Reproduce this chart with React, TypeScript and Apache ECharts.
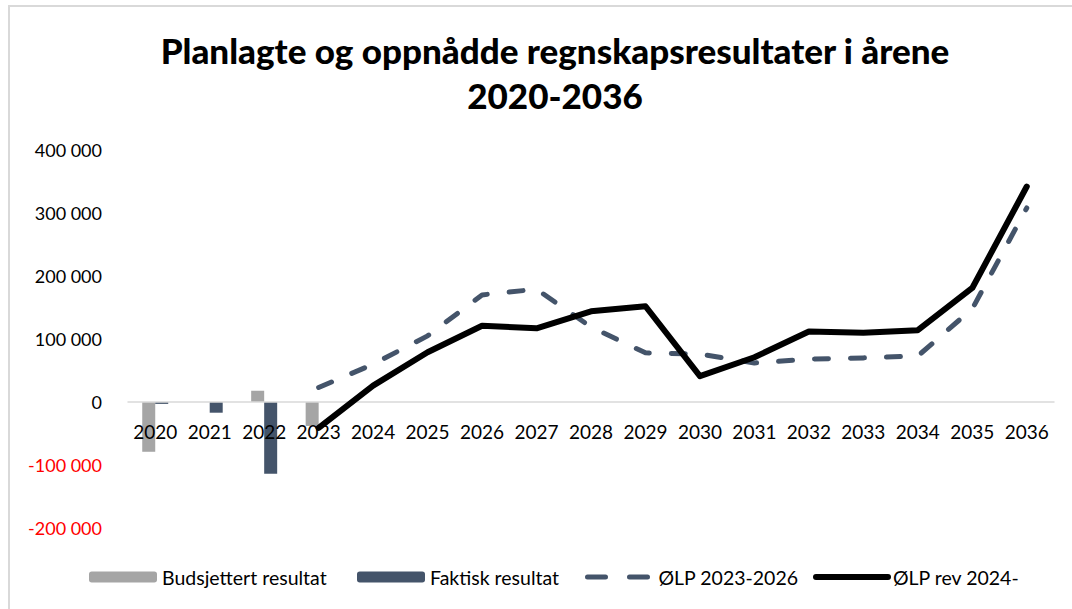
import React, { useEffect, useRef } from "react";
import * as echarts from "echarts";

const years = ["2020","2021","2022","2023","2024","2025","2026","2027","2028","2029","2030","2031","2032","2033","2034","2035","2036"];
const budsjettert = [-79000, null, 18000, -38000, null, null, null, null, null, null, null, null, null, null, null, null, null];
const faktisk = [-3000, -17000, -114000, null, null, null, null, null, null, null, null, null, null, null, null, null, null];
const olp2023 = [null, null, null, 23000, 60000, 105000, 170000, 179000, 119000, 78000, 76000, 62000, 68000, 70000, 73000, 148000, 308000];
const olpRev = [null, null, null, -41000, 26000, 79000, 121000, 117000, 144000, 152000, 41000, 71000, 112000, 110000, 114000, 181000, 342000];
const seriesNames = ["Budsjettert resultat", "Faktisk resultat", "ØLP 2023-2026", "ØLP rev 2024-"];
const titleText = "Planlagte og oppnådde regnskapsresultater i årene\n2020-2036";

const FONT = "Lato";

function fmt(v: number): string {
  const n = Number(v);
  const s = Math.abs(n).toString().replace(/\B(?=(\d{3})+(?!\d))/g, " ");
  return (n < 0 ? "-" : "") + s;
}

export default function App() {
  const ref = useRef<HTMLDivElement>(null);
  useEffect(() => {
    if (!ref.current) return;
    const chart = echarts.init(ref.current, null, { renderer: "svg" });
    const legendText = { fontFamily: FONT, fontSize: 19.5, color: "#000" };
    const base = { top: 567, padding: 0, itemHeight: 11 };
    chart.setOption({
      animation: false,
      backgroundColor: "#fff",
      title: {
        text: titleText,
        left: 550,
        top: 22,
        textAlign: "center",
        textStyle: { fontFamily: FONT, fontWeight: 900, fontSize: 35, lineHeight: 45, color: "#000" },
      },
      graphic: [
        {
          type: "rect",
          shape: { x: 9, y: 6, width: 1100, height: 700 },
          style: { fill: "none", stroke: "#d9d9d9", lineWidth: 2 },
          silent: true,
        },
      ],
      legend: [
        { ...base, data: [seriesNames[0]], left: 89, itemWidth: 68, textStyle: legendText },
        { ...base, data: [seriesNames[1]], left: 357, itemWidth: 68, textStyle: legendText },
        {
          ...base,
          data: [seriesNames[2]],
          left: 585,
          itemWidth: 66,
          textStyle: legendText,
          itemStyle: { opacity: 0 },
          lineStyle: { width: 5, type: [18, 24], cap: "round", color: "#44546A" },
        },
        {
          ...base,
          data: [seriesNames[3]],
          left: 813,
          itemWidth: 72,
          textStyle: legendText,
          itemStyle: { opacity: 0 },
          lineStyle: { width: 6, cap: "round", color: "#000" },
        },
      ],
      grid: { left: 128, right: 18, top: 150, bottom: 81, containLabel: false },
      xAxis: {
        type: "category",
        data: years,
        boundaryGap: true,
        offset: -126,
        z: 3,
        axisLine: { onZero: false, lineStyle: { color: "#d9d9d9", width: 1.5 } },
        axisTick: { show: false },
        axisLabel: { fontFamily: FONT, fontSize: 19, color: "#000", margin: 20, interval: 0 },
        splitLine: { show: false },
      },
      yAxis: {
        type: "value",
        min: -200000,
        max: 400000,
        interval: 100000,
        axisLine: { show: false },
        axisTick: { show: false },
        splitLine: { show: false },
        axisLabel: {
          fontFamily: FONT,
          fontSize: 18,
          margin: 26,
          formatter: (v: number) => fmt(v),
          color: (v: any) => (Number(v) < 0 ? "#FF0000" : "#000000"),
        },
      },
      series: [
        {
          name: seriesNames[0],
          type: "bar",
          data: budsjettert,
          barWidth: 13,
          barGap: "0%",
          itemStyle: { color: "#A5A5A5" },
        },
        {
          name: seriesNames[1],
          type: "bar",
          data: faktisk,
          barWidth: 13,
          barGap: "0%",
          itemStyle: { color: "#44546A" },
        },
        {
          name: seriesNames[2],
          type: "line",
          data: olp2023,
          showSymbol: false,
          symbol: "none",
          z: 4,
          lineStyle: { color: "#44546A", width: 5, type: [14, 22], cap: "round", join: "round" },
          itemStyle: { color: "#44546A" },
        },
        {
          name: seriesNames[3],
          type: "line",
          data: olpRev,
          showSymbol: false,
          symbol: "none",
          z: 5,
          lineStyle: { color: "#000000", width: 6, cap: "round", join: "round" },
          itemStyle: { color: "#000000" },
        },
      ],
    });
    return () => chart.dispose();
  }, []);
  return (
    <div
      ref={ref}
      style={{ position: "fixed", top: 0, left: 0, width: 1072, height: 609, background: "#fff" }}
    />
  );
}
